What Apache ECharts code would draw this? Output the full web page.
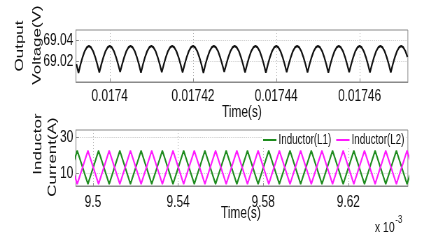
<!DOCTYPE html>
<html><head><meta charset="utf-8">
<script src="https://cdn.jsdelivr.net/npm/echarts@6/dist/echarts.min.js"></script>
<style>
html,body{margin:0;padding:0;background:#fff;overflow:hidden;width:424px;height:245px}
/* The reference figure is a horizontally squeezed plot: draw wide, then squeeze */
#c{width:606px;height:245px;transform:scaleX(0.6997);transform-origin:0 0}
</style>
</head><body><div id="c"></div>
<script>
// ---- Output voltage (top panel), time in seconds ----
const voltTime = [
0.0173920,0.0173925,0.0173930,0.0173935,0.0173940,0.0173945,0.0173950,0.0173955,0.0173960,0.0173965,
0.0173970,0.0173975,0.0173980,0.0173985,0.0173990,0.0173995,0.0174000,0.0174005,0.0174010,0.0174015,
0.0174020,0.0174025,0.0174030,0.0174035,0.0174040,0.0174045,0.0174050,0.0174055,0.0174060,0.0174065,
0.0174070,0.0174075,0.0174080,0.0174085,0.0174090,0.0174095,0.0174100,0.0174105,0.0174110,0.0174115,
0.0174120,0.0174125,0.0174130,0.0174135,0.0174140,0.0174145,0.0174150,0.0174155,0.0174160,0.0174165,
0.0174170,0.0174175,0.0174180,0.0174185,0.0174190,0.0174195,0.0174200,0.0174205,0.0174210,0.0174215,
0.0174220,0.0174225,0.0174230,0.0174235,0.0174240,0.0174245,0.0174250,0.0174255,0.0174260,0.0174265,
0.0174270,0.0174275,0.0174280,0.0174285,0.0174290,0.0174295,0.0174300,0.0174305,0.0174310,0.0174315,
0.0174320,0.0174325,0.0174330,0.0174335,0.0174340,0.0174345,0.0174350,0.0174355,0.0174360,0.0174365,
0.0174370,0.0174375,0.0174380,0.0174385,0.0174390,0.0174395,0.0174400,0.0174405,0.0174410,0.0174415,
0.0174420,0.0174425,0.0174430,0.0174435,0.0174440,0.0174445,0.0174450,0.0174455,0.0174460,0.0174465,
0.0174470,0.0174475,0.0174480,0.0174485,0.0174490,0.0174495,0.0174500,0.0174505,0.0174510,0.0174515,
0.0174520,0.0174525,0.0174530,0.0174535,0.0174540,0.0174545,0.0174550,0.0174555,0.0174560,0.0174565,
0.0174570,0.0174575,0.0174580,0.0174585,0.0174590,0.0174595,0.0174600,0.0174605,0.0174610,0.0174615,
0.0174620,0.0174625,0.0174630,0.0174635,0.0174640,0.0174645,0.0174650,0.0174655,0.0174660,0.0174665,
0.0174670,0.0174675,0.0174680,0.0174685,0.0174690,0.0174695,0.0174700,0.0174705,0.0174710,0.0174715
];
const voltValue = [
69.0176,69.0095,69.0176,69.0244,69.0298,69.0333,69.0345,69.0333,69.0298,69.0244,
69.0176,69.0100,69.0176,69.0244,69.0298,69.0333,69.0345,69.0333,69.0298,69.0244,
69.0176,69.0105,69.0176,69.0244,69.0298,69.0333,69.0345,69.0333,69.0298,69.0244,
69.0176,69.0098,69.0176,69.0244,69.0298,69.0333,69.0345,69.0333,69.0298,69.0244,
69.0176,69.0102,69.0176,69.0244,69.0298,69.0333,69.0345,69.0333,69.0298,69.0244,
69.0176,69.0100,69.0176,69.0244,69.0298,69.0333,69.0345,69.0333,69.0298,69.0244,
69.0176,69.0096,69.0176,69.0244,69.0298,69.0333,69.0345,69.0333,69.0298,69.0244,
69.0176,69.0104,69.0176,69.0244,69.0298,69.0333,69.0345,69.0333,69.0298,69.0244,
69.0176,69.0100,69.0176,69.0244,69.0298,69.0333,69.0345,69.0333,69.0298,69.0244,
69.0176,69.0098,69.0176,69.0244,69.0298,69.0333,69.0345,69.0333,69.0298,69.0244,
69.0176,69.0103,69.0176,69.0244,69.0298,69.0333,69.0345,69.0333,69.0298,69.0244,
69.0176,69.0100,69.0176,69.0244,69.0298,69.0333,69.0345,69.0333,69.0298,69.0244,
69.0176,69.0097,69.0176,69.0244,69.0298,69.0333,69.0345,69.0333,69.0298,69.0244,
69.0176,69.0102,69.0176,69.0244,69.0298,69.0333,69.0345,69.0333,69.0298,69.0244,
69.0176,69.0100,69.0176,69.0244,69.0298,69.0333,69.0345,69.0333,69.0298,69.0244,
69.0176,69.0099,69.0176,69.0244,69.0298,69.0333,69.0345,69.0333,69.0298,69.0244
];
const voltXTicks = [0.0174, 0.01742, 0.01744, 0.01746];
const voltYTicks = [69.02, 69.04];

// ---- Inductor currents (bottom panel), time in ms (x 10^-3 s) ----
const currentTimeMs = [
9.4876,9.4926,9.4976,9.5026,9.5076,9.5126,9.5176,9.5226,9.5276,9.5326,
9.5376,9.5426,9.5476,9.5526,9.5576,9.5626,9.5676,9.5726,9.5776,9.5826,
9.5876,9.5926,9.5976,9.6026,9.6076,9.6126,9.6176,9.6226,9.6276,9.6326,
9.6376,9.6426,9.6476,9.6526
];
const currentL1 = [
4.3,22.7,4.3,22.7,4.3,22.7,4.3,22.7,4.3,22.7,
4.3,22.7,4.3,22.7,4.3,22.7,4.3,22.7,4.3,22.7,
4.3,22.7,4.3,22.7,4.3,22.7,4.3,22.7,4.3,22.7,
4.3,22.7,4.3,22.7
];
const currentL2 = [
22.7,4.3,22.7,4.3,22.7,4.3,22.7,4.3,22.7,4.3,
22.7,4.3,22.7,4.3,22.7,4.3,22.7,4.3,22.7,4.3,
22.7,4.3,22.7,4.3,22.7,4.3,22.7,4.3,22.7,4.3,
22.7,4.3,22.7,4.3
];
const currentXTicks = [9.5, 9.54, 9.58, 9.62];
const currentYTicks = [10, 30];
const seriesNames = ['Inductor(L1)', 'Inductor(L2)'];

const SANS = "'Liberation Sans',Arial,Helvetica,sans-serif";
const gridLine = {show: true, lineStyle: {color: '#b4b4b4', type: [1, 2], width: 1}};
const boxColor = '#8a8a8a';
const txt = '#111';

function xAx(gi, min, max, ticks, margin) {
  return {
    type: 'value', gridIndex: gi, min: min, max: max,
    axisLine: {show: true, onZero: false, lineStyle: {color: boxColor}},
    axisTick: {show: true, inside: true, length: 3, customValues: ticks, lineStyle: {color: boxColor}},
    axisLabel: {customValues: ticks, margin: margin, color: txt, fontFamily: SANS, fontSize: 17,
      formatter: v => String(+(+v).toPrecision(6))},
    splitLine: gridLine
  };
}
function yAx(gi, min, max, ticks) {
  return {
    type: 'value', gridIndex: gi, min: min, max: max,
    axisLine: {show: true, lineStyle: {color: boxColor}},
    axisTick: {show: true, inside: true, length: 4, customValues: ticks, lineStyle: {color: boxColor}},
    axisLabel: {customValues: ticks, margin: 4, color: txt, fontFamily: SANS, fontSize: 17,
      formatter: v => String(+(+v).toPrecision(6))},
    splitLine: gridLine
  };
}

const chart = echarts.init(document.getElementById('c'), null, {renderer: 'canvas', width: 606, height: 245});
chart.setOption({
  animation: false,
  backgroundColor: '#fff',
  grid: [
    {left: 108.6, top: 30, width: 474.3, height: 52, show: true, borderColor: boxColor, borderWidth: 1},
    {left: 108.6, top: 130, width: 474.3, height: 56, show: true, borderColor: boxColor, borderWidth: 1}
  ],
  xAxis: [
    xAx(0, 0.0173919, 0.0174716, voltXTicks, 6),
    xAx(1, 9.492, 9.648, currentXTicks, 8)
  ],
  yAxis: [
    yAx(0, 69.001, 69.0495, voltYTicks),
    yAx(1, 3.2, 34.2, currentYTicks)
  ],
  legend: {
    left: 374, top: 132, itemGap: 7, itemWidth: 19, itemHeight: 2, icon: 'rect', orient: 'horizontal',
    padding: [1, 2], backgroundColor: '#fff',
    textStyle: {fontFamily: SANS, fontSize: 14, color: txt, padding: [0, 0, 0, -2]},
    data: seriesNames
  },
  series: [
    {type: 'line', xAxisIndex: 0, yAxisIndex: 0, showSymbol: false, symbol: 'none',
     data: voltTime.map((t, i) => [t, voltValue[i]]),
     lineStyle: {color: '#111', width: 2.2}, itemStyle: {color: '#111'}},
    {name: seriesNames[0], type: 'line', xAxisIndex: 1, yAxisIndex: 1, symbol: 'none',
     data: currentTimeMs.map((t, i) => [t, currentL1[i]]),
     lineStyle: {color: '#1e8c1e', width: 2}, itemStyle: {color: '#1e8c1e'}},
    {name: seriesNames[1], type: 'line', xAxisIndex: 1, yAxisIndex: 1, symbol: 'none',
     data: currentTimeMs.map((t, i) => [t, currentL2[i]]),
     lineStyle: {color: '#ff1aff', width: 2}, itemStyle: {color: '#ff1aff'}}
  ],
  graphic: [
    {type: 'text', x: 28.6, y: 46, rotation: Math.PI / 2,
     style: {text: 'Output', fontFamily: SANS, fontSize: 17, fill: txt, align: 'center', verticalAlign: 'middle'}},
    {type: 'text', x: 52.9, y: 45, rotation: Math.PI / 2,
     style: {text: 'Voltage(V)', fontFamily: SANS, fontSize: 17, fill: txt, align: 'center', verticalAlign: 'middle'}},
    {type: 'text', x: 54.3, y: 144, rotation: Math.PI / 2,
     style: {text: 'Inductor', fontFamily: SANS, fontSize: 17, fill: txt, align: 'center', verticalAlign: 'middle'}},
    {type: 'text', x: 75.7, y: 157, rotation: Math.PI / 2,
     style: {text: 'Current(A)', fontFamily: SANS, fontSize: 17, fill: txt, align: 'center', verticalAlign: 'middle'}},
    {type: 'text', x: 345.7, y: 112,
     style: {text: 'Time(s)', fontFamily: SANS, fontSize: 17, fill: txt, align: 'center', verticalAlign: 'middle'}},
    {type: 'text', x: 344.3, y: 213,
     style: {text: 'Time(s)', fontFamily: SANS, fontSize: 17, fill: txt, align: 'center', verticalAlign: 'middle'}},
    {type: 'text', x: 535.7, y: 212,
     style: {text: '{a|x 10}{b|-3}', fontFamily: SANS, fill: txt,
       rich: {a: {fontSize: 15, fontFamily: SANS, fill: txt, padding: [8, 0, 0, 0]},
              b: {fontSize: 11, fontFamily: SANS, fill: txt, padding: [0, 0, 8, 1]}}}}
  ]
});
</script></body></html>
